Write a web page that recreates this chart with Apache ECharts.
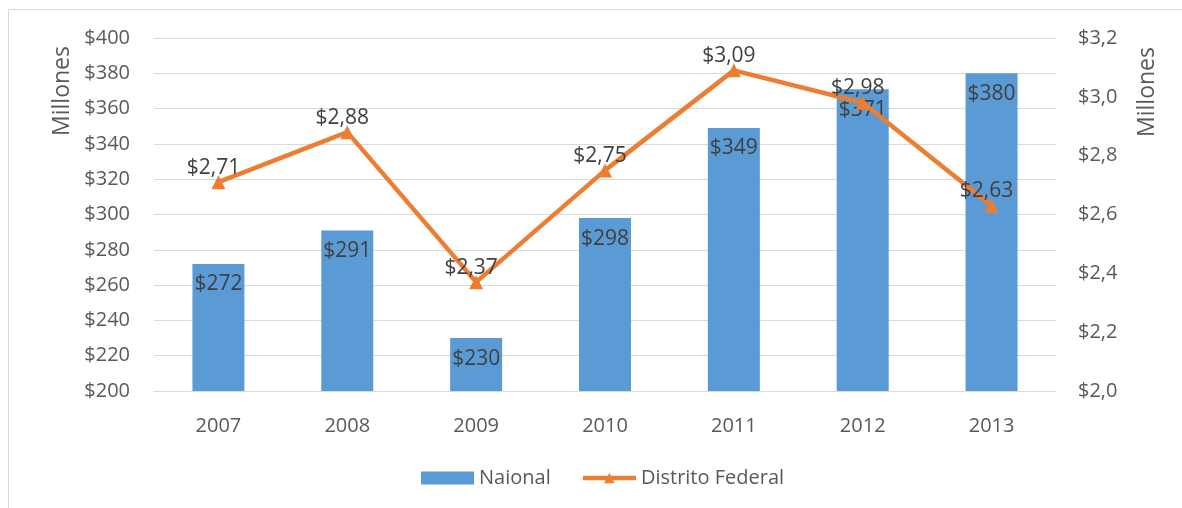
<!DOCTYPE html>
<html>
<head>
<meta charset="utf-8">
<script src="https://cdn.jsdelivr.net/npm/echarts@6/dist/echarts.min.js"></script>
<style>
  html, body { margin: 0; padding: 0; background: #fff; }
  #chart { width: 1182px; height: 508px; }
</style>
</head>
<body>
<div id="chart"></div>
<script>
// Years on the category axis
const years = ['2007', '2008', '2009', '2010', '2011', '2012', '2013'];
// National totals (millions, left axis)
const nacional = [272, 291, 230, 298, 349, 371, 380];
// Distrito Federal totals (millions, right axis)
const distritoFederal = [2.71, 2.88, 2.37, 2.75, 3.09, 2.98, 2.63];
// Series names shown in the legend
const seriesNames = ['Naional', 'Distrito Federal'];
// Axis title
const axisTitle = 'Millones';

const FONT = 'Open Sans';
const TEXT = '#595959';
const LABEL = '#404040';
const GRID = '#d9d9d9';
const BLUE = '#5B9BD5';
const ORANGE = '#ED7D31';

const fmtLeft = v => '$' + Math.round(v);
const fmtRight = v => '$' + v.toFixed(1).replace('.', ',');
const fmtPoint = v => '$' + v.toFixed(2).replace('.', ',');

const chart = echarts.init(document.getElementById('chart'), null, { renderer: 'canvas' });

chart.setOption({
  backgroundColor: '#ffffff',
  animation: false,
  textStyle: { fontFamily: FONT },
  grid: { left: 154, right: 126, top: 38, bottom: 117, containLabel: false },
  graphic: [
    {
      type: 'rect', silent: true,
      shape: { x: 8.5, y: 9.5, width: 1180, height: 520 },
      style: { fill: 'none', stroke: GRID, lineWidth: 1 }
    },
    {
      type: 'text', x: 62, y: 91, rotation: Math.PI / 2, silent: true,
      style: { text: axisTitle, fill: TEXT, font: '23px "' + FONT + '"', align: 'center', verticalAlign: 'middle' }
    },
    {
      type: 'text', x: 1147, y: 92, rotation: Math.PI / 2, silent: true,
      style: { text: axisTitle, fill: TEXT, font: '23px "' + FONT + '"', align: 'center', verticalAlign: 'middle' }
    }
  ],
  legend: {
    bottom: 15,
    left: 416,
    itemGap: 30,
    textStyle: { color: TEXT, fontSize: 20, fontFamily: FONT },
    data: [
      { name: seriesNames[0], icon: 'rect', itemStyle: { color: BLUE } },
      { name: seriesNames[1], lineStyle: { width: 4.5, color: ORANGE } }
    ],
    itemWidth: 53,
    itemHeight: 13
  },
  xAxis: {
    type: 'category',
    data: years,
    axisLine: { lineStyle: { color: GRID, width: 1 } },
    axisTick: { show: false },
    axisLabel: { color: TEXT, fontSize: 20, margin: 25, fontFamily: FONT }
  },
  yAxis: [
    {
      type: 'value', min: 200, max: 400, interval: 20,
      axisLine: { show: false }, axisTick: { show: false },
      splitLine: { lineStyle: { color: GRID, width: 1 } },
      axisLabel: { color: TEXT, fontSize: 20, margin: 24, formatter: fmtLeft, fontFamily: FONT }
    },
    {
      type: 'value', min: 2.0, max: 3.2, interval: 0.2,
      axisLine: { show: false }, axisTick: { show: false },
      splitLine: { show: false },
      axisLabel: { color: TEXT, fontSize: 20, margin: 22, formatter: fmtRight, fontFamily: FONT }
    }
  ],
  series: [
    {
      name: seriesNames[0],
      type: 'bar',
      yAxisIndex: 0,
      data: nacional,
      barWidth: 52,
      itemStyle: { color: BLUE },
      label: {
        show: true, position: 'insideTop', distance: 10,
        color: LABEL, fontSize: 21, fontFamily: FONT,
        formatter: p => fmtLeft(p.value)
      },
      z: 2
    },
    {
      name: seriesNames[1],
      type: 'line',
      yAxisIndex: 1,
      data: distritoFederal,
      symbol: 'triangle',
      symbolSize: 14,
      lineStyle: { color: ORANGE, width: 4.5 },
      itemStyle: { color: ORANGE },
      label: {
        show: true, position: 'top', distance: 0, offset: [-5, 3],
        color: LABEL, fontSize: 21, fontFamily: FONT,
        formatter: p => fmtPoint(p.value)
      },
      z: 3
    }
  ]
});
</script>
</body>
</html>
